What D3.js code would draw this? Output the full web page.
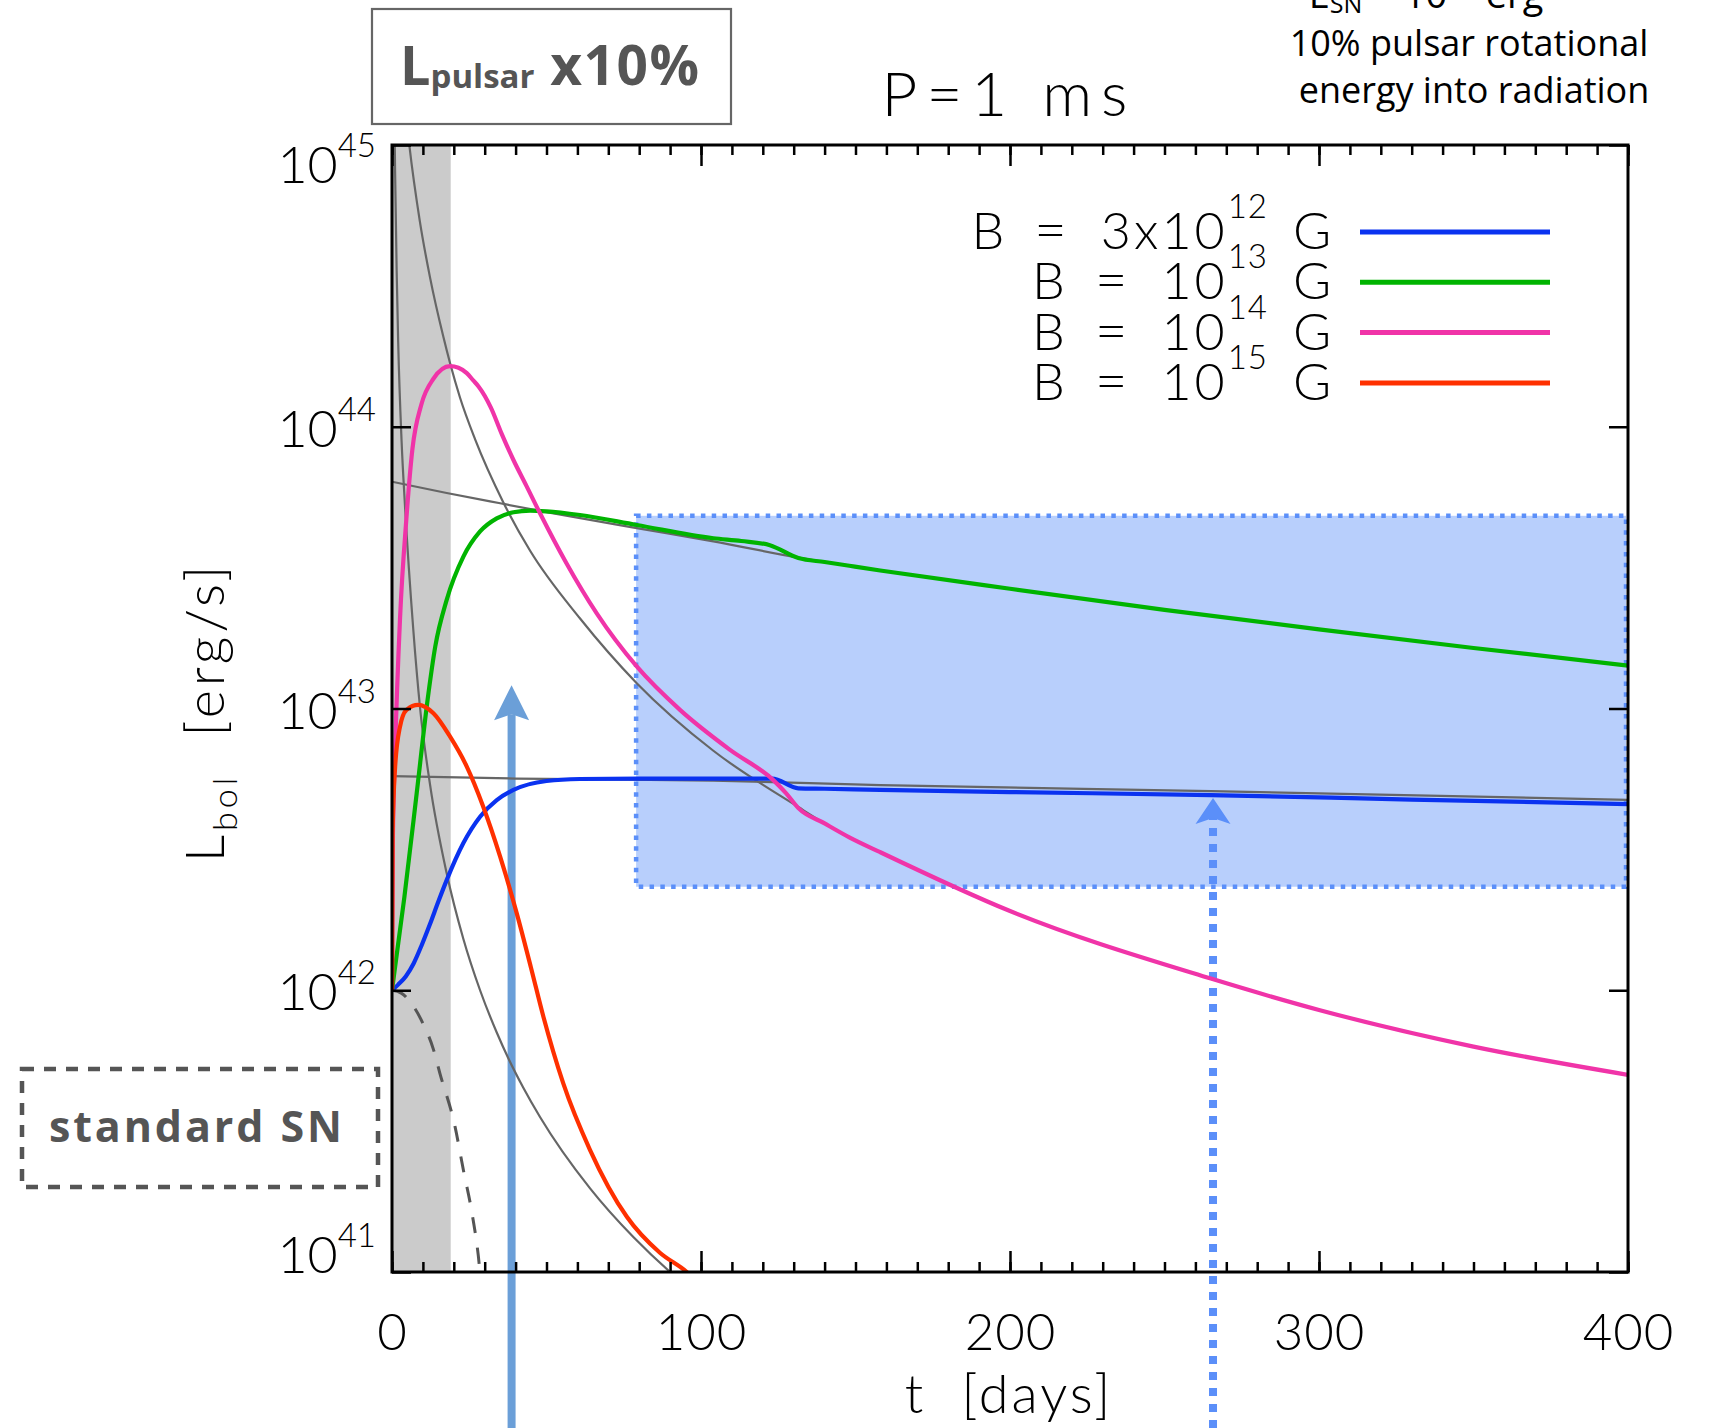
<!DOCTYPE html>
<meta charset="utf-8">
<style>
  body { margin: 0; background: #fff; }
  svg { display: block; }
  .ax { font-family: Lato, "DejaVu Sans", sans-serif; font-weight: 300; fill: #000; white-space: pre; }
  .note { font-family: "Open Sans", "DejaVu Sans", sans-serif; white-space: pre; }
</style>
<body></body>
<script src="https://d3js.org/d3.v7.min.js"></script>
<script>

// ---- data (t in days, L in erg/s) ----
var xTicks = [0, 100, 200, 300, 400];
var yPowers = [41, 42, 43, 44, 45];

var legendMantissa = ["3x10", "10", "10", "10"];
var legendPower = ["12", "13", "14", "15"];
var legendColors = ["#0a32f0", "#00b400", "#f034a8", "#ff3000"];

var blueB12 = [[0,1.0e42],[2,1.047e42],[4.5,1.122e42],[7,1.245e42],[9.6,1.445e42],[12.3,1.718e42],[15,2.065e42],[17.7,2.46e42],[23.1,3.33e42],[28.5,4.13e42],[33.9,4.73e42],[39.3,5.14e42],[50,5.53e42],[60.8,5.62e42],[80,5.64e42],[104,5.64e42],[123,5.64e42],[131.5,5.21e42],[140,5.19e42],[158,5.14e42],[200,5.05e42],[265,4.93e42],[330,4.75e42],[400,4.58e42]];
var greenB13 = [[0,1.0e42],[4,2.14e42],[8,5.01e42],[11.5,1.07e43],[14,1.66e43],[17.7,2.43e43],[23.1,3.46e43],[28.5,4.25e43],[33.9,4.73e43],[39.3,4.97e43],[44.7,5.04e43],[50,5.01e43],[60.8,4.86e43],[79.2,4.48e43],[104,4.02e43],[113,3.93e43],[122.3,3.80e43],[131.5,3.42e43],[140,3.31e43],[148,3.21e43],[158,3.09e43],[200,2.66e43],[250,2.24e43],[300,1.91e43],[350,1.64e43],[400,1.42e43]];
var magentaB14 = [[0,1.0e42],[0.3,3.55e42],[1,7.08e42],[2.6,2.09e43],[4.7,4.79e43],[6.6,8.32e43],[9.5,1.20e44],[13.4,1.48e44],[18.8,1.64e44],[21.5,1.62e44],[24.2,1.55e44],[26.3,1.46e44],[28,1.39e44],[32,1.17e44],[35.5,9.44e43],[39.3,7.62e43],[43.5,6.17e43],[47.9,4.93e43],[56.5,3.27e43],[66.2,2.18e43],[79.2,1.41e43],[93.2,9.89e42],[109.4,7.13e42],[123.4,5.57e42],[127.5,5.01e42],[131.5,4.43e42],[140,3.91e42],[148,3.49e42],[158,3.09e42],[200,1.91e42],[265,1.10e42],[300,8.51e41],[350,6.31e41],[400,5.01e41]];
var redB15 = [[0,1.0e42],[0.2,3.63e42],[1,6.17e42],[2.6,8.63e42],[4.7,9.89e42],[8.5,1.03e43],[13.4,9.62e42],[18.8,7.94e42],[24.2,6.22e42],[29.5,4.49e42],[35,2.98e42],[40.4,1.87e42],[45,1.20e42],[49,8.05e41],[55.4,4.68e41],[64.1,2.71e41],[76,1.57e41],[86.7,1.17e41],[95.4,1.0e41],[98,9.4e40]];

// pulsar input x10% (grey) for each field
var pulsarB12 = [[0,5.75e42],[40,5.64e42],[104,5.55e42],[158,5.35e42],[265,5.09e42],[400,4.74e42]];
var pulsarB13 = [[0,6.38e43],[17.7,5.82e43],[35,5.35e43],[50,4.98e43],[79.2,4.37e43],[104,3.92e43],[131.5,3.43e43],[140,3.31e43],[148,3.21e43],[158,3.09e43],[200,2.66e43],[250,2.24e43],[300,1.91e43],[350,1.64e43],[400,1.42e43]];
var pulsarB14 = [[4.8,1.2e45],[5.6,1.0e45],[9,5.37e44],[12.3,3.39e44],[16.6,2.09e44],[18.8,1.68e44],[22,1.27e44],[26.9,9.02e43],[36,5.4e43],[44.7,3.63e43],[60.8,2.09e43],[79.2,1.23e43],[104,7.08e42],[131.5,4.47e42],[140,3.91e42],[148,3.49e42],[158,3.09e42],[200,1.91e42],[265,1.10e42],[300,8.51e41],[350,6.31e41],[400,5.01e41]];
var pulsarB15 = [[0.85,1.1e45],[1,8.1e44],[1.5,3.6e44],[2,2.0e44],[3.1,8.9e43],[4.2,5.25e43],[6.9,1.9e43],[9.1,1.0e43],[12.3,5.38e42],[17.7,2.6e42],[23.1,1.52e42],[28.5,1.0e42],[33.9,7.08e41],[37.6,5.75e41],[42.5,4.51e41],[47.9,3.55e41],[64.1,1.98e41],[78.1,1.33e41],[90,1.0e41],[96,8.8e40]];

var standardSN = [[0,1.0e42],[3,9.77e41],[5.8,9.12e41],[10.1,7.59e41],[13.4,6.17e41],[15.5,5.07e41],[20.4,3.28e41],[23.1,2.30e41],[25.8,1.64e41],[27.9,1.15e41],[28.5,1.0e41],[29,9.3e40]];

var bandDays = [0, 19];
var boxDays = [79, 400];
var boxL = [2.33e42, 4.83e43];
var arrowDays = [38.7, 265.7];
var arrowTipL = [1.21e43, 4.81e42];

// ---- layout ----
var W = 1711, H = 1428;
var pL = 392, pR = 1628, pT = 145, pB = 1272;

var svg = d3.select("body").append("svg")
    .attr("width", W)
    .attr("height", H);

var x = d3.scaleLinear().domain([0, 400]).range([pL, pR]);
var y = d3.scaleLog().domain([1e41, 1e45]).range([pB, pT]);

svg.append("clipPath").attr("id", "plotclip")
  .append("rect")
    .attr("x", pL).attr("y", pT)
    .attr("width", pR - pL).attr("height", pB - pT);

var under = svg.append("g").attr("clip-path", "url(#plotclip)");

// grey early-time band
under.append("rect")
    .attr("x", x(bandDays[0]))
    .attr("y", pT)
    .attr("width", x(bandDays[1]) - x(bandDays[0]))
    .attr("height", pB - pT)
    .attr("fill", "#cbcbcb");

// observed range box
svg.append("rect")
    .attr("x", x(boxDays[0]))
    .attr("y", y(boxL[1]))
    .attr("width", x(boxDays[1]) - x(boxDays[0]) - 2)
    .attr("height", y(boxL[0]) - y(boxL[1]))
    .attr("fill", "#b8cffc")
    .attr("stroke", "#5b8ff9")
    .attr("stroke-width", 4.5)
    .attr("stroke-dasharray", "4.5 6.3");

// arrows
function arrow(t, L, color, dotted, headH) {
  var ax = x(t), tip = y(L);
  svg.append("line")
      .attr("x1", ax).attr("x2", ax)
      .attr("y1", H).attr("y2", tip + headH - 6)
      .attr("stroke", color)
      .attr("stroke-width", 8)
      .attr("stroke-dasharray", dotted ? "8 8" : null);
  svg.append("path")
      .attr("d", "M" + ax + "," + tip +
                 "L" + (ax + 17.5) + "," + (tip + headH) +
                 "L" + ax + "," + (tip + headH - 6) +
                 "L" + (ax - 17.5) + "," + (tip + headH) + "Z")
      .attr("fill", color);
}
arrow(arrowDays[0], arrowTipL[0], "#6b9fd8", false, 35);
arrow(arrowDays[1], arrowTipL[1], "#5b8ff9", true, 26);

var plot = svg.append("g").attr("clip-path", "url(#plotclip)");

var line = d3.line()
    .x(function (d) { return x(d[0]); })
    .y(function (d) { return y(d[1]); })
    .curve(d3.curveMonotoneX);

[pulsarB12, pulsarB13, pulsarB14, pulsarB15].forEach(function (s) {
  plot.append("path")
      .attr("d", line(s))
      .attr("fill", "none")
      .attr("stroke", "#666")
      .attr("stroke-width", 2.2);
});

plot.append("path")
    .attr("d", line(standardSN))
    .attr("fill", "none")
    .attr("stroke", "#555")
    .attr("stroke-width", 3)
    .attr("stroke-dasharray", "16 15");

[blueB12, greenB13, magentaB14, redB15].forEach(function (s, i) {
  plot.append("path")
      .attr("d", line(s))
      .attr("fill", "none")
      .attr("stroke", legendColors[i])
      .attr("stroke-width", 4.2)
      .attr("stroke-linejoin", "round");
});

// ---- axes ----
function styleAxis(g) {
  g.select(".domain").remove();
  g.selectAll(".tick line").attr("stroke", "#000").attr("stroke-width", 2.5);
}

var minor = d3.range(0, 401, 10);

svg.append("g").attr("transform", "translate(0," + pB + ")")
    .call(d3.axisBottom(x).tickValues(minor).tickSize(-10).tickFormat(""))
    .call(styleAxis);
var xb = svg.append("g").attr("transform", "translate(0," + pB + ")")
    .call(d3.axisBottom(x).tickValues(xTicks).tickSize(-21).tickFormat(d3.format("d")))
    .call(styleAxis);
xb.selectAll(".tick text")
    .attr("class", "ax")
    .attr("y", 78).attr("dy", null)
    .attr("font-size", 51)
    .attr("letter-spacing", 1);
xb.attr("font-family", null).attr("font-size", null);

svg.append("g").attr("transform", "translate(0," + pT + ")")
    .call(d3.axisTop(x).tickValues(minor).tickSize(-10).tickFormat(""))
    .call(styleAxis);
svg.append("g").attr("transform", "translate(0," + pT + ")")
    .call(d3.axisTop(x).tickValues(xTicks).tickSize(-21).tickFormat(""))
    .call(styleAxis);

var yTickVals = yPowers.map(function (p) { return Math.pow(10, p); });
svg.append("g").attr("transform", "translate(" + pL + ",0)")
    .call(d3.axisLeft(y).tickValues(yTickVals).tickSize(-19).tickFormat(""))
    .call(styleAxis);
svg.append("g").attr("transform", "translate(" + pR + ",0)")
    .call(d3.axisRight(y).tickValues(yTickVals).tickSize(-19).tickFormat(""))
    .call(styleAxis);

// y tick labels 10^n
yPowers.forEach(function (p) {
  var base = Math.min(Math.max(y(Math.pow(10, p)) + 20, pT + 38), pB + 1);
  var t = svg.append("text")
      .attr("class", "ax")
      .attr("x", 376)
      .attr("y", base)
      .attr("text-anchor", "end")
      .attr("font-size", 52);
  t.append("tspan").text("10");
  t.append("tspan").attr("dy", -26).attr("font-size", 33).text(p);
});

// frame
svg.append("rect")
    .attr("x", pL).attr("y", pT)
    .attr("width", pR - pL).attr("height", pB - pT)
    .attr("fill", "none")
    .attr("stroke", "#000")
    .attr("stroke-width", 3);

// axis titles
svg.append("text")
    .attr("class", "ax")
    .attr("x", 1009).attr("y", 1413)
    .attr("text-anchor", "middle")
    .attr("font-size", 54)
    .attr("letter-spacing", 3)
    .text("t  [days]");

var yl = svg.append("text")
    .attr("class", "ax")
    .attr("transform", "translate(224,712) rotate(-90)")
    .attr("text-anchor", "middle")
    .attr("font-size", 54)
    .attr("letter-spacing", 4);
yl.append("tspan").text("L");
yl.append("tspan").attr("dy", 13).attr("font-size", 34).text("bol");
yl.append("tspan").attr("dy", -13).text("  [erg/s]");

svg.append("text")
    .attr("class", "ax")
    .attr("x", 1009).attr("y", 116)
    .attr("text-anchor", "middle")
    .attr("font-size", 62)
    .attr("letter-spacing", 9)
    .text("P=1 ms");

// legend
legendMantissa.forEach(function (m, i) {
  var ly = 232 + i * 50.3;
  svg.append("line")
      .attr("x1", 1360).attr("x2", 1550)
      .attr("y1", ly).attr("y2", ly)
      .attr("stroke", legendColors[i])
      .attr("stroke-width", 5);
  var num = svg.append("text")
      .attr("class", "ax")
      .attr("x", 1268).attr("y", ly + 17)
      .attr("text-anchor", "end")
      .attr("font-size", 52)
      .attr("letter-spacing", 3);
  num.append("tspan").text(m);
  num.append("tspan").attr("dy", -31).attr("font-size", 33).attr("letter-spacing", 1).text(legendPower[i]);
  var x0 = num.node().getBBox().x;
  var eq = svg.append("text")
      .attr("class", "ax")
      .attr("x", x0 - 34).attr("y", ly + 17)
      .attr("text-anchor", "end")
      .attr("font-size", 56)
      .text("=");
  var x1 = eq.node().getBBox().x;
  svg.append("text")
      .attr("class", "ax")
      .attr("x", x1 - 30).attr("y", ly + 17)
      .attr("text-anchor", "end")
      .attr("font-size", 52)
      .text("B");
  svg.append("text")
      .attr("class", "ax")
      .attr("x", 1293).attr("y", ly + 17)
      .attr("font-size", 52)
      .text("G");
});

// annotation boxes
svg.append("rect")
    .attr("x", 372).attr("y", 9)
    .attr("width", 359).attr("height", 115)
    .attr("fill", "none")
    .attr("stroke", "#666")
    .attr("stroke-width", 2.2);
var lp = svg.append("text")
    .attr("class", "note")
    .attr("x", 400).attr("y", 85)
    .attr("fill", "#555")
    .attr("font-weight", 700)
    .attr("font-size", 54);
lp.append("tspan").text("L");
lp.append("tspan").attr("dy", 3).attr("font-size", 33).text("pulsar");
lp.append("tspan").attr("dy", -3).attr("font-size", 55).attr("letter-spacing", 1.5).text(" x10%");

svg.append("rect")
    .attr("x", 22).attr("y", 1069)
    .attr("width", 356).attr("height", 118)
    .attr("fill", "none")
    .attr("stroke", "#555")
    .attr("stroke-width", 4.5)
    .attr("stroke-dasharray", "12 10");
svg.append("text")
    .attr("class", "note")
    .attr("x", 49).attr("y", 1142)
    .attr("fill", "#555")
    .attr("font-weight", 700)
    .attr("font-size", 43)
    .attr("textLength", 293)
    .attr("lengthAdjust", "spacing")
    .text("standard SN");

// top-right note
var e1 = svg.append("text")
    .attr("class", "note")
    .attr("x", 1426).attr("y", 8)
    .attr("text-anchor", "middle")
    .attr("font-size", 38);
e1.append("tspan").text("E");
e1.append("tspan").attr("dy", 5).attr("font-size", 25).text("SN");
e1.append("tspan").attr("dy", -5).text(" = 10");
e1.append("tspan").attr("dy", -17).attr("font-size", 25).text("51");
e1.append("tspan").attr("dy", 17).text(" erg");

svg.append("text")
    .attr("class", "note")
    .attr("x", 1469).attr("y", 56)
    .attr("text-anchor", "middle")
    .attr("font-size", 36)
    .text("10% pulsar rotational");
svg.append("text")
    .attr("class", "note")
    .attr("x", 1474).attr("y", 103)
    .attr("text-anchor", "middle")
    .attr("font-size", 36)
    .text("energy into radiation");

</script>
